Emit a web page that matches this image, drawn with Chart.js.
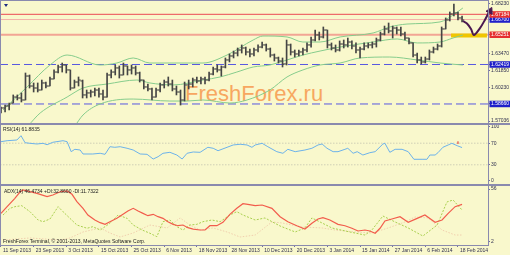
<!DOCTYPE html>
<html>
<head>
<meta charset="utf-8">
<script src="https://cdn.jsdelivr.net/npm/chart.js@4.4.1/dist/chart.umd.min.js"></script>
<style>
  html, body { margin: 0; padding: 0; background: #f9f8cc; }
  #wrap { position: relative; width: 510px; height: 255px; overflow: hidden; background: #f9f8cc; font-family: 'Liberation Sans', Arial, sans-serif; }
  #wrap canvas { position: absolute; left: 0; }
  .lbl { position: absolute; font-size: 5px; line-height: 6px; color: #202020; white-space: nowrap; }
  .ln { position: absolute; background: #8a8aae; }
  #mark { position: absolute; left: 185px; top: 83px; font-size: 22px; line-height: 22px; color: #f7a760; white-space: nowrap; }
  #tri { position: absolute; left: 4px; top: 4px; width: 0; height: 0; border-left: 2px solid transparent; border-right: 2px solid transparent; border-top: 3px solid #1c2a80; }
</style>
</head>
<body>
<div id="wrap">
  <div id="mark">FreshForex.ru</div>
  <canvas id="cMain" width="510" height="123" style="top:0"></canvas>
  <canvas id="cRsi" width="510" height="59" style="top:125px"></canvas>
  <canvas id="cAdx" width="510" height="69" style="top:186px"></canvas>
  <div class="ln" style="left:0;top:0;width:1px;height:245px"></div>
  <div class="ln" style="left:0;top:0;width:488px;height:1px"></div>
  <div class="ln" style="left:488px;top:0;width:1px;height:245px"></div>
  <div class="ln" style="left:0;top:123px;width:510px;height:2px"></div>
  <div class="ln" style="left:0;top:184px;width:510px;height:2px"></div>
  <div class="ln" style="left:0;top:245px;width:489px;height:1px"></div>
  <div id="tri"></div>
  <div class="lbl" style="left:3px;top:125.5px">RSI(14) 61.8835</div>
  <div class="lbl" style="left:4px;top:187.5px">ADX(14) 46.4734 +DI:32.8600 -DI:11.7322</div>
  <div class="lbl" style="left:3px;top:238px">FreshForex Terminal, © 2001-2013, MetaQuotes Software Corp.</div>
</div>
<script>
// barras diarias (OHLC)
const barOpen = [1.5790,1.5828,1.5847,1.5875,1.5932,1.5923,1.5904,1.6132,1.6037,1.6018,
  1.5999,1.6066,1.6037,1.6104,1.6170,1.6218,1.6237,1.6190,1.6018,1.6075,
  1.6085,1.5952,1.5971,1.5980,1.5999,1.5961,1.5932,1.6142,1.6170,1.6209,
  1.6142,1.6228,1.6190,1.6209,1.6161,1.6094,1.6028,1.6009,1.5932,1.5999,
  1.6047,1.6075,1.6056,1.6009,1.5980,1.5904,1.6047,1.6056,1.6094,1.6085,
  1.6104,1.6094,1.6151,1.6199,1.6190,1.6218,1.6285,1.6323,1.6351,1.6380,
  1.6399,1.6361,1.6342,1.6380,1.6408,1.6428,1.6389,1.6332,1.6304,1.6275,
  1.6247,1.6428,1.6361,1.6342,1.6361,1.6380,1.6428,1.6475,1.6523,1.6504,
  1.6570,1.6428,1.6399,1.6380,1.6437,1.6428,1.6456,1.6418,1.6380,1.6389,
  1.6418,1.6428,1.6437,1.6475,1.6532,1.6580,1.6561,1.6589,1.6570,1.6532,
  1.6494,1.6447,1.6332,1.6285,1.6266,1.6294,1.6361,1.6389,1.6418,1.6580,
  1.6666,1.6723,1.6732,1.6685];
const barHigh = [1.5837,1.5856,1.5875,1.5952,1.5952,1.5971,1.6161,1.6142,1.6066,1.6066,
  1.6094,1.6075,1.6123,1.6190,1.6237,1.6256,1.6237,1.6190,1.6094,1.6123,
  1.6094,1.5999,1.5999,1.6018,1.6018,1.5999,1.6161,1.6190,1.6237,1.6228,
  1.6256,1.6228,1.6237,1.6228,1.6170,1.6094,1.6056,1.6018,1.6018,1.6066,
  1.6094,1.6123,1.6094,1.6037,1.5999,1.6075,1.6094,1.6113,1.6123,1.6123,
  1.6123,1.6170,1.6218,1.6237,1.6228,1.6304,1.6342,1.6370,1.6399,1.6428,
  1.6408,1.6389,1.6399,1.6428,1.6456,1.6437,1.6399,1.6342,1.6313,1.6304,
  1.6475,1.6437,1.6380,1.6380,1.6399,1.6447,1.6504,1.6570,1.6551,1.6599,
  1.6570,1.6447,1.6428,1.6466,1.6475,1.6494,1.6466,1.6447,1.6408,1.6447,
  1.6447,1.6456,1.6494,1.6551,1.6608,1.6637,1.6608,1.6599,1.6599,1.6551,
  1.6494,1.6447,1.6351,1.6313,1.6313,1.6380,1.6408,1.6437,1.6599,1.6685,
  1.6742,1.6818,1.6742,1.6704];
const barLow = [1.5780,1.5790,1.5809,1.5875,1.5904,1.5885,1.5904,1.6018,1.5980,1.5980,
  1.5999,1.6018,1.6037,1.6104,1.6161,1.6170,1.6161,1.5999,1.6018,1.6037,
  1.5923,1.5923,1.5932,1.5942,1.5932,1.5904,1.5932,1.6113,1.6142,1.6113,
  1.6142,1.6142,1.6151,1.6142,1.6075,1.6009,1.5990,1.5904,1.5932,1.5980,
  1.6018,1.6037,1.5990,1.5952,1.5856,1.5894,1.6009,1.6028,1.6066,1.6056,
  1.6056,1.6085,1.6142,1.6170,1.6132,1.6209,1.6266,1.6304,1.6323,1.6351,
  1.6332,1.6313,1.6323,1.6361,1.6399,1.6370,1.6313,1.6275,1.6256,1.6218,
  1.6237,1.6332,1.6313,1.6323,1.6332,1.6361,1.6408,1.6466,1.6475,1.6494,
  1.6399,1.6380,1.6361,1.6370,1.6399,1.6408,1.6389,1.6351,1.6304,1.6380,
  1.6399,1.6399,1.6408,1.6466,1.6523,1.6542,1.6494,1.6532,1.6513,1.6475,
  1.6437,1.6313,1.6256,1.6247,1.6256,1.6285,1.6351,1.6380,1.6408,1.6580,
  1.6656,1.6704,1.6666,1.6647];
const barClose = [1.5828,1.5847,1.5866,1.5932,1.5923,1.5904,1.6132,1.6037,1.6018,1.5999,
  1.6066,1.6037,1.6104,1.6170,1.6218,1.6237,1.6190,1.6018,1.6075,1.6094,
  1.5952,1.5971,1.5980,1.5999,1.5961,1.5932,1.6142,1.6170,1.6209,1.6142,
  1.6228,1.6190,1.6209,1.6161,1.6094,1.6028,1.6009,1.5932,1.5999,1.6047,
  1.6075,1.6056,1.6009,1.5980,1.5904,1.6047,1.6056,1.6094,1.6085,1.6104,
  1.6094,1.6151,1.6199,1.6190,1.6218,1.6285,1.6323,1.6351,1.6380,1.6399,
  1.6361,1.6342,1.6380,1.6408,1.6428,1.6389,1.6332,1.6304,1.6275,1.6247,
  1.6428,1.6361,1.6342,1.6361,1.6380,1.6428,1.6475,1.6523,1.6504,1.6570,
  1.6428,1.6399,1.6380,1.6437,1.6428,1.6456,1.6418,1.6380,1.6389,1.6418,
  1.6428,1.6437,1.6475,1.6532,1.6580,1.6561,1.6589,1.6570,1.6532,1.6494,
  1.6447,1.6332,1.6285,1.6266,1.6294,1.6361,1.6389,1.6418,1.6580,1.6666,
  1.6723,1.6732,1.6685,1.6666];

// bandas de bollinger
const bbUpX = [0.5,6.4,12,16.2,24.3,28.4,32.4,36.5,41.4,49.5,55.4,61.8,64.2,70.1,74,78.2,83.1,91.2,95.3,99.5,107.6,110.8,113.2];
const bbUp = [1.5809,1.6028,1.6237,1.6332,1.6237,1.6256,1.6304,1.6256,1.6256,1.6256,1.6332,1.6475,1.6513,1.6504,1.6456,1.6456,1.6504,1.6542,1.6599,1.6627,1.6647,1.6713,1.6780];
const bbMidX = [6.6,9.6,16.2,20.1,26,33.3,36.5,42.2,49.5,53.7,57.8,61.8,65.9,70.1,74,78.2,83.1,91.2,97.1,102,107.6,110.8,113.2];
const bbMid = [1.5656,1.5780,1.5932,1.6018,1.6056,1.6094,1.6066,1.6047,1.6094,1.6123,1.6170,1.6218,1.6237,1.6285,1.6332,1.6370,1.6408,1.6456,1.6485,1.6447,1.6456,1.6494,1.6523];
const bbLowX = [18.1,20.1,24.3,32.4,41.4,45.6,49.5,56.1,60.3,65.9,70.1,74,78.2,83.1,88,95.3,102,107.6,113.2];
const bbLow = [1.5656,1.5761,1.5866,1.5913,1.5894,1.5894,1.5904,1.5875,1.5904,1.5999,1.6123,1.6190,1.6237,1.6256,1.6304,1.6313,1.6285,1.6256,1.6237];

// niveis horizontais
const levelPrices = [1.58660, 1.62419, 1.65251, 1.66700, 1.67184];
const levelColors = ['#5858e0', '#5858e0', '#f2a594', '#f3b3aa', '#ee6b6b'];
const levelWidths = [1, 1, 2, 1, 1.2];
const levelDash = [[8, 4], [8, 4], [], [], []];
const levelBox = ['#1f1fc9', '#1f1fc9', '#e53030', '#1f1fc9', '#e53030'];
const axisPrices = [1.57036, 1.60230, 1.61850, 1.63470, 1.68230];

// zona amarela e seta de previsao
const zoneX = [110.3, 119.1];
const zonePrice = 1.6518;
const arrowX = [113.2, 114.2, 115.2, 115.9, 117.4, 118.6, 119.6];
const arrowY = [1.6656, 1.6632, 1.6580, 1.6523, 1.6589, 1.6666, 1.6742];
const arrowTipX = [119.85];
const arrowTipY = [1.6751];

// RSI(14)
const rsiX = [0,1.5,3.9,4.9,5.9,7.1,8.8,10.3,11.3,12.7,15.2,16.2,17.2,18.1,19.4,20.1,22.5,24.3,25.5,26.7,27.9,29.2,30.9,32.4,34.1,35.8,37.3,38.5,39.7,41.4,43.1,44.4,45.6,47.1,48.8,50.7,52,53.2,55.4,56.9,58.6,60.3,61.5,62.3,64,65.4,67.6,69.1,70.3,72.1,74.5,76.2,77.7,78.7,79.9,81.4,82.6,84.3,85,86.3,87.3,88.7,90.4,91.7,93.6,94.1,95.3,96.6,98.3,99.8,101.2,103.2,104.4,105.1,106.4,107.1,108.3,109.6,110.5,111.8,113];
const rsiVal = [72.8,74.6,75.9,83.9,70.9,69.8,68.5,69.8,67.2,71.7,74.6,72.8,54.3,58.7,57.4,50,50,51.3,49.4,63.5,62.4,63.5,60.6,57.4,50,49.4,40.7,45,51.3,53.1,48.1,40.7,51.3,53.7,53.1,62.4,60.6,56.1,62.4,66.7,68,66.7,62.4,66.7,69.8,63.5,54.3,51.3,58.7,54.3,57.4,60.6,66.7,68.5,60.6,54.3,54.3,58.7,60.6,51.3,54.3,48.1,52.4,54.3,68.5,69.8,53.1,58.7,58.7,54.3,40.2,40.2,40.2,48.1,48.1,52.4,62.4,66.7,69.8,65.4,61.9];
const rsiLevels = [30, 70];
const rsiTicks = [0, 30, 70, 100];
const rsiMarkX = [112];
const rsiMarkVal = [71];

// ADX(14)
const adxX = [0,1.5,3.4,4.7,5.4,8.8,11.3,12.7,14.5,16.2,17.4,18.6,20.1,21.3,23,24.3,25.5,26.7,28.4,29.9,31.1,32.4,33.6,34.8,36,37.3,38.5,39.7,40.9,42.2,43.4,44.6,45.8,47.1,48.8,50,51.2,52.9,54.4,56.1,57.8,59.3,60.5,62.3,64,66.4,68.4,70.3,72.5,74.5,76.2,77.7,78.9,80.6,82.6,84.3,86,87.5,89.2,90.4,91.7,92.9,94.1,95.8,97.8,99.8,102,103.9,106.4,108.1,109.6,111.3,113];
const adxVal = [31.2,38,46.5,53.2,55,51.6,48.2,49.9,53.2,54,50.6,43.1,36.3,29.5,24.4,21.7,20,22.7,26.1,30.2,33.6,36.3,33.6,31.2,28.8,30.2,27.8,26.1,22.7,20,18.6,19.3,16.6,15.2,14.2,14.2,18.6,18.6,22.1,30.2,36.3,41,40.4,39,39.7,36.3,27.8,22.7,18.6,15.2,21.1,25.4,26.8,24.4,20,18.6,16,13.2,14.2,13.2,10.9,16,23.4,25.4,27.8,22.1,26.1,29.5,22.1,24.4,31.2,38,40.4];
const pdiX = [0.5,2.2,3.4,5.1,7.1,9.1,10.3,12,14,15.2,16.9,18.6,21.1,22.5,24.3,26.7,28.7,30.9,32.4,34.6,36.5,38.2,39.7,41.4,43.1,44.6,46.3,48,49.5,51.7,53.7,56.1,57.8,59.3,62.3,64.7,68.4,72.1,74.5,76.2,78.2,81.1,85.5,89.2,90.9,93.6,96.6,99.8,103.4,106.9,109.3,110.8,113];
const pdiVal = [29.5,36.3,38,39,32.9,24.4,22.7,25.4,38,32.9,26.1,19.3,16,17.6,14.2,21.1,29.5,26.1,19.3,14.2,10.9,7.4,22.7,24.4,17.6,14.2,19.3,20,22.7,24.4,22.7,29.5,32.9,29.5,24.4,26.5,18.3,12.2,16.3,26.5,22.4,16.3,12.2,9.1,14.2,28.5,22.4,16.3,8.1,19.3,42.8,44.8,34.6];
const mdiX = [0.5,7.1,14.5,16.9,20.1,24.3,26.7,29.2,32.4,36.5,40.7,43.9,46.3,48.8,52,55.4,58.6,62.3,66.4,68.9,71.3,73.8,78.7,81.9,86.8,90.9,94.9,99,101.5,104.7,108.1,111.3,113];
const mdiVal = [4,6.1,4,6.1,12.2,16.3,11.2,7.1,11.2,19.3,16.3,26.5,19.3,14.2,16.3,12.2,7.1,9.1,22.4,21.4,19.3,17.3,16.3,14.2,12.2,11.2,16.3,22.4,27.5,26.5,14.2,9.1,9.1];
const adxTicks = [2, 56];

// eixo de datas
const dateIdx = [0, 8, 16, 24, 32, 40, 48, 56, 64, 72, 80, 88, 96, 104, 112];
const dateLabels = ['11 Sep 2013','23 Sep 2013','3 Oct 2013','15 Oct 2013','25 Oct 2013','6 Nov 2013','18 Nov 2013','28 Nov 2013','10 Dec 2013','20 Dec 2013','3 Jan 2014','15 Jan 2014','27 Jan 2014','6 Feb 2014','18 Feb 2014'];

Chart.defaults.font.family = "'Liberation Sans', Arial, sans-serif";
Chart.defaults.font.size = 5;
Chart.defaults.color = '#303050';

const X_MIN = -0.245, X_MAX = 119.36;
const AXIS_W = 22;
const BAR_COLOR = '#454545';

const pts = (xs, ys) => xs.map((x, i) => ({ x: x, y: ys[i] }));
const hline = (v) => [{ x: X_MIN, y: v }, { x: X_MAX, y: v }];

function hiddenX() {
    return { type: 'linear', display: false, min: X_MIN, max: X_MAX, offset: false, bounds: 'data' };
}

function rightAxis(min, max, tickVals, tickOpts) {
    return {
        type: 'linear', position: 'right', min: min, max: max, bounds: 'data',
        afterBuildTicks: (s) => { s.ticks = tickVals.map(v => ({ value: v })); },
        afterFit: (s) => { s.width = AXIS_W; s.paddingTop = 0; s.paddingBottom = 0; },
        ticks: Object.assign({ autoSkip: false, padding: 1, font: { size: 5, lineHeight: 1.1 }, color: '#303050' }, tickOpts),
        grid: { drawOnChartArea: false, tickLength: 2, color: '#7070a0' },
        border: { display: false }
    };
}

const baseOpts = {
    responsive: false,
    animation: false,
    events: [],
    layout: { padding: 0, autoPadding: false },
    plugins: { legend: { display: false }, tooltip: { enabled: false } }
};

// grafico principal
const barIdx = barHigh.map((_, i) => i);
const isLevel = (c) => c.tick && levelPrices.includes(c.tick.value);
const mainTicks = axisPrices.concat(levelPrices).sort((a, b) => a - b);

new Chart(document.getElementById('cMain'), {
    type: 'bar',
    data: {
        datasets: [
            { type: 'line', data: pts(arrowX, arrowY), borderColor: '#4a1850', borderWidth: 2, tension: 0.35, pointRadius: 0, clip: false, order: 0 },
            { type: 'scatter', data: pts(arrowTipX, arrowTipY), pointStyle: 'triangle', pointRadius: 4, pointHoverRadius: 4, pointRotation: 27, pointBackgroundColor: '#4a1850', pointBorderColor: '#4a1850', pointBorderWidth: 1, clip: false, order: 0 },
            { type: 'bar', data: barIdx.map(i => ({ x: i, y: [barLow[i], barHigh[i]] })), backgroundColor: BAR_COLOR, borderWidth: 0, barThickness: 1, grouped: false, order: 1 },
            { type: 'scatter', data: barIdx.map(i => ({ x: i - 0.3, y: barOpen[i] })), pointStyle: 'line', pointRadius: 1, pointHoverRadius: 0, pointBorderColor: BAR_COLOR, pointBorderWidth: 1, order: 1 },
            { type: 'scatter', data: barIdx.map(i => ({ x: i + 0.3, y: barClose[i] })), pointStyle: 'line', pointRadius: 1, pointHoverRadius: 0, pointBorderColor: BAR_COLOR, pointBorderWidth: 1, order: 1 },
            { type: 'line', data: pts(bbUpX, bbUp), borderColor: '#86cc8c', borderWidth: 1, cubicInterpolationMode: 'monotone', pointRadius: 0, order: 2 },
            { type: 'line', data: pts(bbMidX, bbMid), borderColor: '#86cc8c', borderWidth: 1, cubicInterpolationMode: 'monotone', pointRadius: 0, order: 2 },
            { type: 'line', data: pts(bbLowX, bbLow), borderColor: '#86cc8c', borderWidth: 1, cubicInterpolationMode: 'monotone', pointRadius: 0, order: 2 },
            { type: 'line', data: zoneX.map(x => ({ x: x, y: zonePrice })), borderColor: '#efc600', borderWidth: 4, pointRadius: 0, clip: false, order: 3 }
        ].concat(levelPrices.map((p, k) => ({
            type: 'line', data: hline(p), borderColor: levelColors[k], borderWidth: levelWidths[k],
            borderDash: levelDash[k], pointRadius: 0, order: 4
        })))
    },
    options: Object.assign({}, baseOpts, {
        scales: {
            x: hiddenX(),
            y: rightAxis(1.56849, 1.68559, mainTicks, {
                callback: (v) => Number(v).toFixed(5),
                color: (c) => isLevel(c) ? '#ffffff' : '#303050',
                showLabelBackdrop: (c) => isLevel(c),
                backdropColor: (c) => isLevel(c) ? levelBox[levelPrices.indexOf(c.tick.value)] : 'rgba(0,0,0,0)',
                backdropPadding: { x: 1.5, y: 0.5 }
            })
        }
    })
});

// RSI
new Chart(document.getElementById('cRsi'), {
    type: 'line',
    data: {
        datasets: [
            { data: pts(rsiX, rsiVal), borderColor: '#6cb2ea', borderWidth: 1, pointRadius: 0, tension: 0, order: 0 },
            { type: 'scatter', data: pts(rsiMarkX, rsiMarkVal), pointStyle: 'line', pointRotation: 90, pointRadius: 1.3, pointHoverRadius: 0, pointBorderColor: '#e02020', pointBorderWidth: 1, order: 0 }
        ].concat(rsiLevels.map(v => ({
            data: hline(v), borderColor: '#cfcfb6', borderWidth: 1, borderDash: [1.5, 1.5], pointRadius: 0, order: 1
        })))
    },
    options: Object.assign({}, baseOpts, {
        scales: {
            x: hiddenX(),
            y: rightAxis(-5.56, 103.7, rsiTicks, { callback: (v) => String(v) })
        }
    })
});

// ADX
new Chart(document.getElementById('cAdx'), {
    type: 'line',
    data: {
        datasets: [
            { data: pts(adxX, adxVal), borderColor: '#f25c4c', borderWidth: 1.2, pointRadius: 0, tension: 0, order: 0 },
            { data: pts(pdiX, pdiVal), borderColor: '#a9cf4f', borderWidth: 1, borderDash: [2, 1.5], pointRadius: 0, tension: 0, order: 1 },
            { data: pts(mdiX, mdiVal), borderColor: '#f0cfae', borderWidth: 1, borderDash: [1.5, 1.5], pointRadius: 0, tension: 0, order: 2 }
        ]
    },
    options: Object.assign({}, baseOpts, {
        scales: {
            x: {
                type: 'linear', position: 'bottom', min: X_MIN, max: X_MAX, offset: false, bounds: 'data',
                afterBuildTicks: (s) => { s.ticks = dateIdx.map(v => ({ value: v })); },
                afterFit: (s) => { s.height = 10; s.paddingLeft = 0; s.paddingRight = 0; },
                ticks: { autoSkip: false, maxRotation: 0, minRotation: 0, align: 'start', labelOffset: 2, padding: 1, color: '#303050', font: { size: 5, lineHeight: 1.1 }, callback: (v, i) => dateLabels[i] },
                grid: { drawOnChartArea: false, tickLength: 2, color: '#7070a0' },
                border: { display: false }
            },
            y: rightAxis(-1.06, 59.06, adxTicks, { callback: (v) => String(v) })
        }
    })
});
</script>
</body>
</html>
